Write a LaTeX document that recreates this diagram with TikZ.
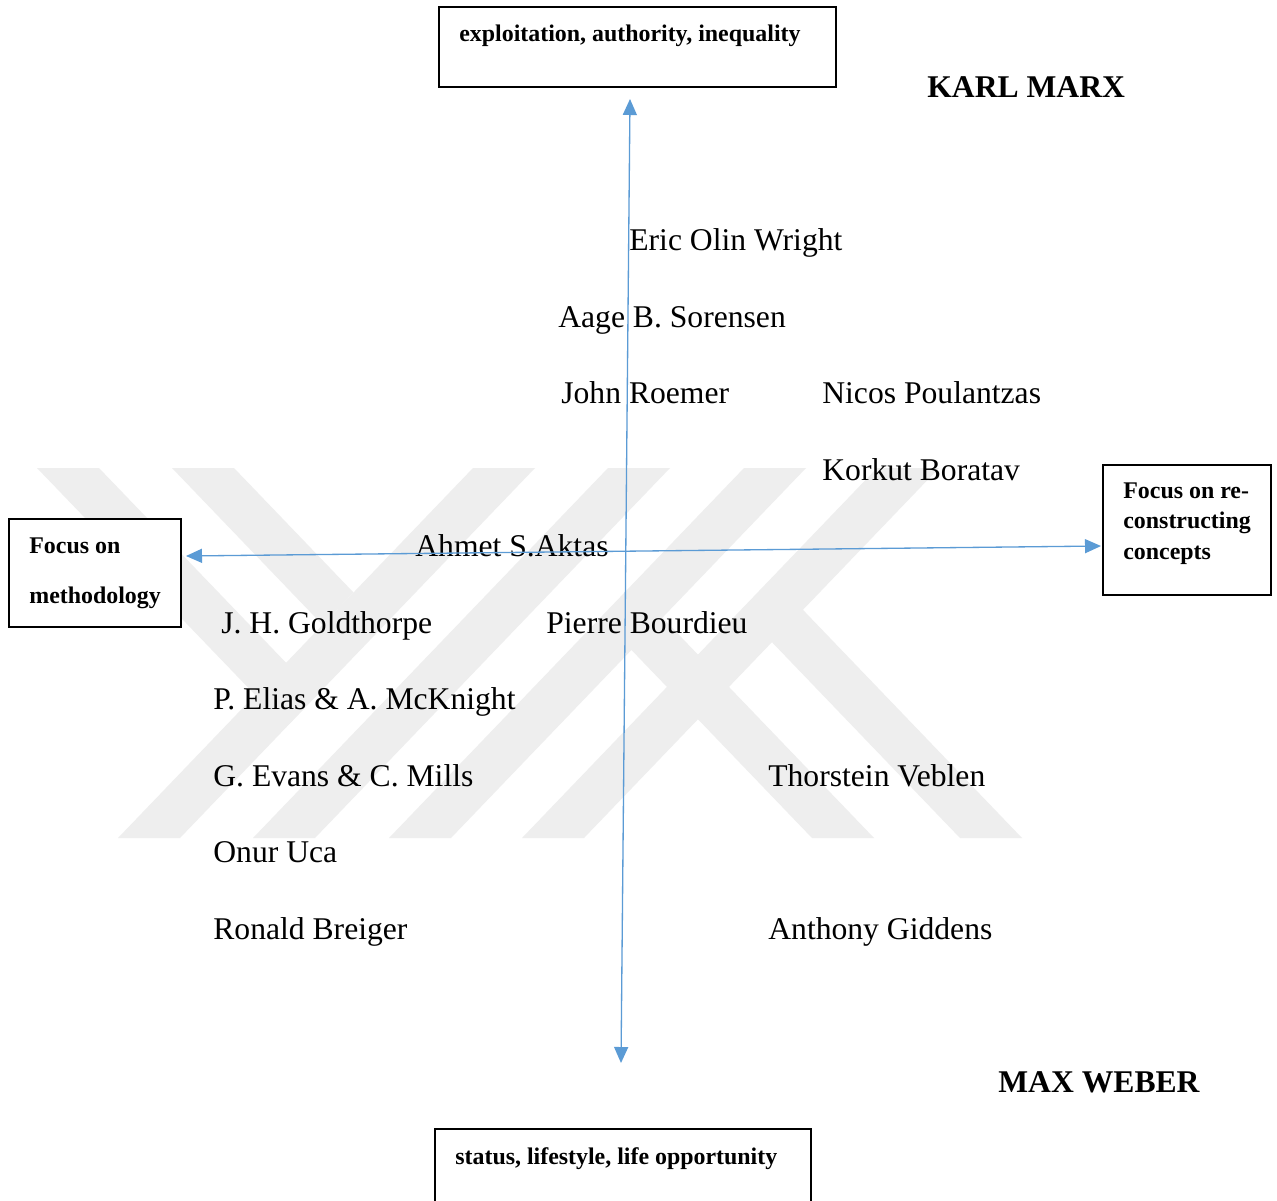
\documentclass[tikz,border=0pt]{standalone}
\usepackage{fontspec}
\setmainfont{Liberation Serif}
\usetikzlibrary{arrows.meta}
\definecolor{axisblue}{RGB}{91,155,213}
\definecolor{wmgray}{RGB}{238,238,238}
\begin{document}
\begin{tikzpicture}[x=0.02cm,y=-0.02cm,
  person/.style={inner sep=0pt, anchor=base west, font=\fontsize{18}{21}\selectfont},
  head/.style={inner sep=0pt, anchor=base west, font=\bfseries\fontsize{18}{21}\selectfont},
  boxlbl/.style={inner sep=0pt, anchor=base west, font=\bfseries\fontsize{13.6}{16}\selectfont},
  frame/.style={draw=black, line width=0.8pt, inner sep=0pt, outer sep=0pt, fill=white},
  axis/.style={draw=axisblue, line width=0.75pt,
    {Triangle[length=0.32cm,width=0.28cm]}-{Triangle[length=0.32cm,width=0.28cm]}},
  wm/.style={fill=wmgray, draw=none}]
\useasboundingbox (0,0) rectangle (1277,1200);
\fill[white] (0,0) rectangle (1277,1200);
% faint background watermark
\fill[wm] (473,468) -- (535,468) -- (180,838) -- (118,838) -- cycle;
\fill[wm] (608,468) -- (670,468) -- (315,838) -- (253,838) -- cycle;
\fill[wm] (744,468) -- (806,468) -- (451,838) -- (389,838) -- cycle;
\fill[wm] (877,468) -- (939,468) -- (584,838) -- (522,838) -- cycle;
\fill[wm] (37,468) -- (99,468) -- (317,695) -- (286,727) -- cycle;
\fill[wm] (172,468) -- (234,468) -- (353.5,592.5) -- (322.5,624.8) -- cycle;
\fill[wm] (812,838) -- (874,838) -- (631.4,585.3) -- (631.4,649.9) -- cycle;
\fill[wm] (960,838) -- (1022,838) -- (771.9,577.5) -- (771.9,642.1) -- cycle;
% boxes
\node[frame, minimum width=7.94cm, minimum height=1.6cm] (exbox) at (637.5,47) {};
\node[boxlbl] (extext) at (459,41) {exploitation, authority, inequality};
\node[frame, minimum width=7.52cm, minimum height=1.8cm] (stbox) at (623,1174) {};
\node[boxlbl] (sttext) at (455,1164) {status, lifestyle, life opportunity};
\node[frame, minimum width=3.44cm, minimum height=2.16cm] (mbox) at (95,573) {};
\node[boxlbl, font=\bfseries\fontsize{13.6}{29}\selectfont] (mtext) at (29,553)
  {\begin{tabular}[t]{@{}l@{}}Focus on\\methodology\end{tabular}};
\node[frame, minimum width=3.36cm, minimum height=2.6cm] (cbox) at (1187,530) {};
\node[boxlbl, font=\bfseries\fontsize{13.6}{17.4}\selectfont] (ctext) at (1123,498)
  {\begin{tabular}[t]{@{}l@{}}Focus on re-\\constructing\\concepts\end{tabular}};
% headings
\node[head] (marx) at (927,97) {KARL MARX};
\node[head] (weber) at (998,1092) {MAX WEBER};
% names
\node[person] (wright) at (629,250.5) {Eric Olin Wright};
\node[person] (sorensen) at (558,327) {Aage B. Sorensen};
\node[person] (roemer) at (561,403.5) {John Roemer};
\node[person] (poulantzas) at (822,403.5) {Nicos Poulantzas};
\node[person] (boratav) at (822,480) {Korkut Boratav};
\node[person] (aktas) at (415,556.5) {Ahmet S.Aktas};
\node[person] (goldthorpe) at (221,633) {J. H. Goldthorpe};
\node[person] (bourdieu) at (546,633) {Pierre Bourdieu};
\node[person] (elias) at (213,709.5) {P. Elias \& A. McKnight};
\node[person] (evans) at (213,786) {G. Evans \& C. Mills};
\node[person] (veblen) at (768,786) {Thorstein Veblen};
\node[person] (uca) at (213,862.5) {Onur Uca};
\node[person] (breiger) at (213,939) {Ronald Breiger};
\node[person] (giddens) at (768,939) {Anthony Giddens};
% axes
\coordinate (vt) at (630,99);
\coordinate (vb) at (621,1063);
\coordinate (hl) at (186,556);
\coordinate (hr) at (1101,546);
\draw[axis] (vt) -- (vb);
\draw[axis] (hl) -- (hr);
\end{tikzpicture}
\end{document}
